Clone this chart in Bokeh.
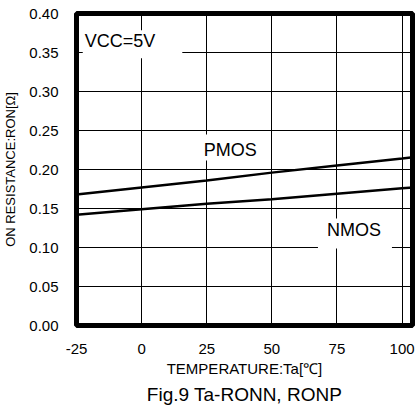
from bokeh.plotting import figure
from bokeh.models import Label, FixedTicker, NumeralTickFormatter, PrintfTickFormatter, Range1d
from bokeh.embed import file_html
from bokeh.resources import INLINE

# data
temps = [-25, 0, 25, 50, 75, 100, 105]
pmos = [0.168, 0.177, 0.186, 0.196, 0.205, 0.214, 0.216]
nmos = [0.142, 0.149, 0.156, 0.162, 0.169, 0.176, 0.177]
x_ticks = [-25, 0, 25, 50, 75, 100]
y_ticks = [0.0, 0.05, 0.10, 0.15, 0.20, 0.25, 0.30, 0.35, 0.40]

FONT = "Liberation Sans"

p = figure(width=410, height=410, output_backend="svg", toolbar_location=None,
           x_range=Range1d(-25, 104), y_range=Range1d(0, 0.40),
           title="Fig.9 Ta-RONN, RONP", title_location="below",
           min_border_left=71, min_border_top=13, min_border_right=3, min_border_bottom=0)
p.frame_width = 336
p.frame_height = 312

p.background_fill_color = "white"
p.border_fill_color = "white"
p.outline_line_color = "black"
p.outline_line_width = 5

p.title.text_font = FONT
p.title.text_font_size = "19px"
p.title.text_font_style = "normal"
p.title.align = "center"
p.title.standoff = 4
p.title.text_color = "black"

for ax in (p.xaxis[0], p.yaxis[0]):
    ax.axis_line_color = None
    ax.major_tick_line_color = None
    ax.minor_tick_line_color = None
    ax.major_tick_out = 0
    ax.major_tick_in = 0
    ax.major_label_text_font = FONT
    ax.major_label_text_font_size = "15px"
    ax.major_label_text_color = "black"
    ax.axis_label_text_font = FONT
    ax.axis_label_text_font_style = "normal"
    ax.axis_label_text_color = "black"

p.xaxis.ticker = FixedTicker(ticks=x_ticks)
p.xaxis.formatter = PrintfTickFormatter(format="%d")
p.yaxis.ticker = FixedTicker(ticks=y_ticks)
p.yaxis.formatter = NumeralTickFormatter(format="0.00")

p.xaxis.axis_label = "TEMPERATURE:Ta[℃]"
p.xaxis.axis_label_text_font_size = "15px"
p.xaxis.major_label_standoff = 18
p.xaxis.axis_label_standoff = 3

p.yaxis.axis_label = "ON RESISTANCE:RON[Ω]"
p.yaxis.axis_label_text_font_size = "13px"
p.yaxis.major_label_standoff = 18
p.yaxis.axis_label_standoff = 8

p.xgrid.grid_line_color = "black"
p.xgrid.grid_line_width = 1
p.ygrid.grid_line_color = "black"
p.ygrid.grid_line_width = 1

p.line(temps, pmos, line_color="black", line_width=2.5)
p.line(temps, nmos, line_color="black", line_width=2.5)

p.add_layout(Label(x=-22.6, y=0.3606, text="VCC=5V", text_font=FONT, text_font_size="18px",
                   text_align="left", text_baseline="middle", text_color="black",
                   background_fill_color="white",
                   padding=dict(left=2, right=27, top=1, bottom=7)))
p.add_layout(Label(x=20.8, y=0.2282, text="PMOS", text_font=FONT, text_font_size="18px",
                   text_align="left", text_baseline="middle", text_color="black",
                   background_fill_color="white",
                   padding=dict(left=8, right=8, top=5, bottom=1)))
p.add_layout(Label(x=67.7, y=0.1179, text="NMOS", text_font=FONT, text_font_size="18px",
                   text_align="left", text_baseline="middle", text_color="black",
                   background_fill_color="white",
                   padding=dict(left=9, right=11, top=1, bottom=9)))

open("out.html", "w").write(file_html(p, INLINE))
